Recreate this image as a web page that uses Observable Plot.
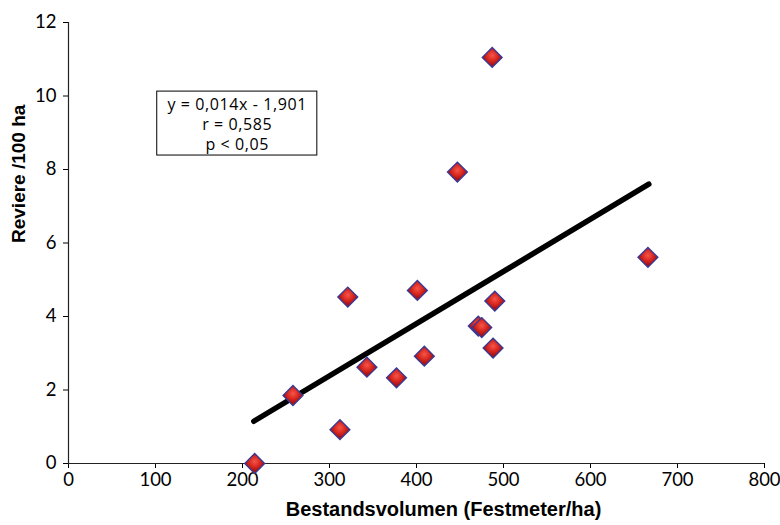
<!DOCTYPE html>
<html>
<head>
<meta charset="utf-8">
<script src="https://cdn.jsdelivr.net/npm/d3@7"></script>
<script src="https://cdn.jsdelivr.net/npm/@observablehq/plot@0.6"></script>
<style>
  html, body { margin: 0; padding: 0; background: #fff; }
  #chart svg { display: block; }
</style>
</head>
<body>
<div id="chart"></div>
<script>
// ---- data ----
const volume = [214, 258, 312, 321, 343, 377, 401, 409, 447, 471, 475, 487, 488, 490, 666];
const reviere = [0, 1.85, 0.92, 4.53, 2.62, 2.33, 4.71, 2.92, 7.93, 3.74, 3.7, 11.05, 3.14, 4.42, 5.61];
const trendX = [213, 667];
const trendY = [1.15, 7.6];
const xTicks = [0, 100, 200, 300, 400, 500, 600, 700, 800];
const yTicks = [0, 2, 4, 6, 8, 10, 12];
const xTitle = "Bestandsvolumen (Festmeter/ha)";
const yTitle = "Reviere /100 ha";
const statLines = ["y = 0,014x - 1,901", "r = 0,585", "p < 0,05"];
const statBoxX = [102, 286];
const statBoxY = [8.38, 10.12];

const points = volume.map((v, i) => ({x: v, y: reviere[i]}));
const trend = trendX.map((v, i) => ({x: v, y: trendY[i]}));

const tickFont = "Lato, 'Open Sans', sans-serif";

const chart = Plot.plot({
  width: 780,
  height: 525,
  marginLeft: 68,
  marginRight: 16,
  marginTop: 22,
  marginBottom: 62,
  style: {fontFamily: tickFont, fontSize: "18.5px", color: "#000", background: "#fff"},
  x: {domain: [0, 800], ticks: xTicks, tickSize: 5, tickPadding: 4, label: null},
  y: {domain: [0, 12], ticks: yTicks, tickSize: 5, tickPadding: 7, label: null},
  marks: [
    Plot.ruleY([0], {stroke: "#222", strokeWidth: 1.2}),
    Plot.ruleX([0], {stroke: "#222", strokeWidth: 1.2}),
    Plot.rect([0], {x1: () => statBoxX[0], x2: () => statBoxX[1], y1: () => statBoxY[0], y2: () => statBoxY[1], fill: "#fff", stroke: "#000", strokeWidth: 1}),
    Plot.text([statLines.join("\n")], {
      x: () => (statBoxX[0] + statBoxX[1]) / 2,
      y: () => (statBoxY[0] + statBoxY[1]) / 2,
      text: d => d, fontSize: 16, lineHeight: 1.25,
      fontFamily: "'Open Sans', sans-serif", fill: "#000", textAnchor: "middle"
    }),
    Plot.line(trend, {x: "x", y: "y", stroke: "#000", strokeWidth: 5.5, strokeLinecap: "round"}),
    Plot.dot(points, {x: "x", y: "y", symbol: "square", rotate: 45, r: 7.9,
      fill: "url(#diamondGrad)", stroke: "#3a3a94", strokeWidth: 1.4}),
    Plot.text([xTitle], {frameAnchor: "bottom", dy: 52, dx: 27, text: d => d,
      fontWeight: "bold", fontSize: 20, fontFamily: "'Liberation Sans', Arial, sans-serif", fill: "#000"}),
    Plot.text([yTitle], {frameAnchor: "left", dx: -50, rotate: -90, text: d => d,
      fontWeight: "bold", fontSize: 19, fontFamily: "'Liberation Sans', Arial, sans-serif", fill: "#000"})
  ]
});

// gradient for the diamonds
const ns = "http://www.w3.org/2000/svg";
const defs = document.createElementNS(ns, "defs");
const grad = document.createElementNS(ns, "radialGradient");
grad.setAttribute("id", "diamondGrad");
grad.setAttribute("cx", "40%");
grad.setAttribute("cy", "40%");
grad.setAttribute("r", "65%");
[["0%", "#f3574a"], ["55%", "#dc2a22"], ["100%", "#a91212"]].forEach(([o, c]) => {
  const s = document.createElementNS(ns, "stop");
  s.setAttribute("offset", o);
  s.setAttribute("stop-color", c);
  grad.appendChild(s);
});
defs.appendChild(grad);
chart.insertBefore(defs, chart.firstChild);

// slight letter spacing on the statistics box, as in the reference
chart.querySelectorAll("text").forEach(t => {
  if (t.textContent.startsWith("y = ")) t.setAttribute("letter-spacing", "0.6");
});

document.getElementById("chart").appendChild(chart);
</script>
</body>
</html>
